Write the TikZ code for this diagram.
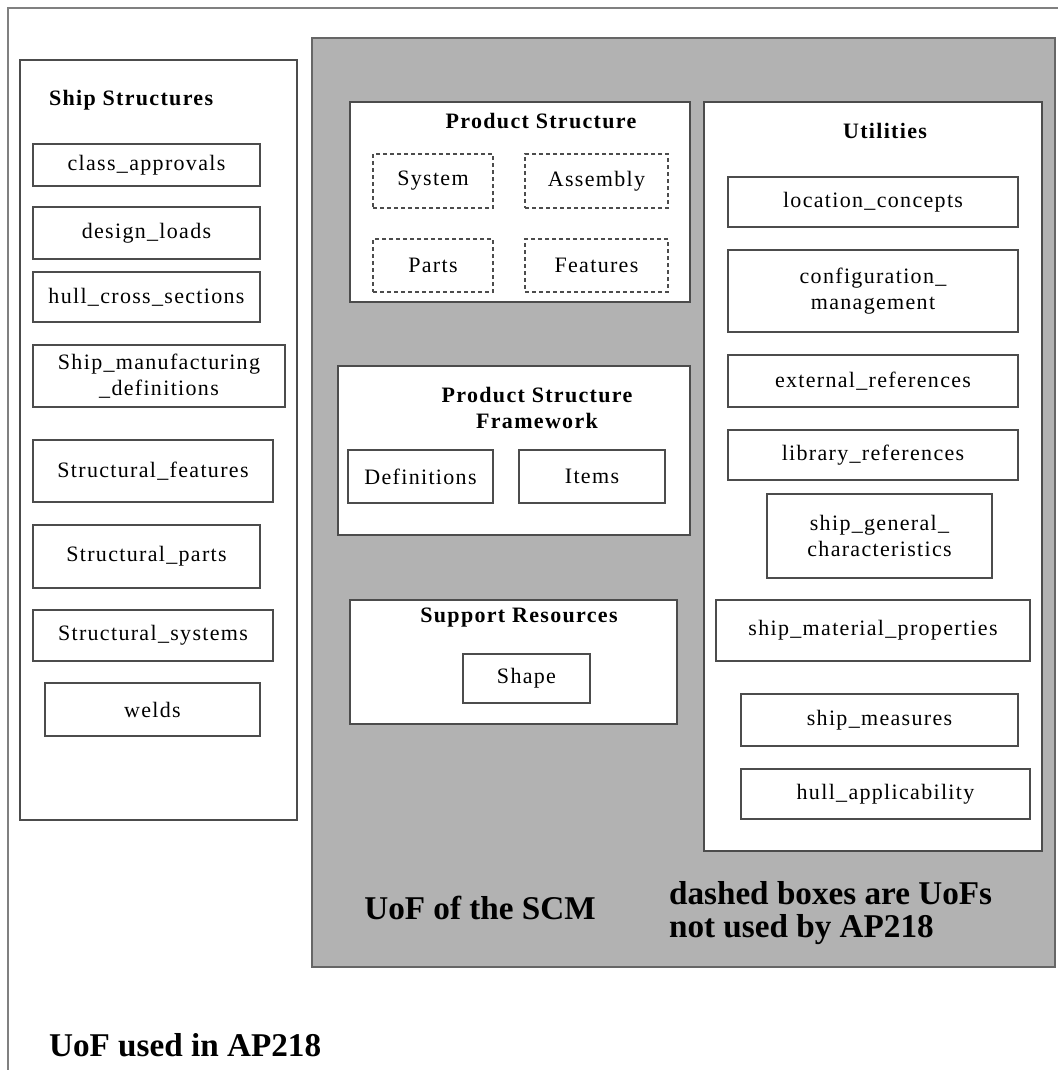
\documentclass[tikz,border=0pt]{standalone}
\usepackage{fontspec}
\setmainfont{Liberation Serif}[LetterSpace=6]
\newfontfamily\notefont{Liberation Serif}
\begin{document}
\begin{tikzpicture}[x=0.5pt,y=-0.5pt]
	\tikzset{every node/.style={font=\fontsize{11}{13}\selectfont}}
	
	\tikzset{group/.style = {shape=rectangle,draw=black!70,line width=0.7pt,fill=white,inner sep=0pt}}
	
	\tikzset{uof/.style = {group,align=center}}
	
	\tikzset{unused/.style = {uof,dash pattern=on 2pt off 1.5pt}}
	
	\tikzset{title/.style = {font=\bfseries\fontsize{11}{13}\selectfont,align=center}}
	
	\tikzset{note/.style = {font=\notefont\bfseries\fontsize{16.6}{16.5}\selectfont,align=left}}
	
	\useasboundingbox (0,0) rectangle (1058,1070);
	
	% frame
	\draw[black!50,line width=0.8pt] (8,1070) -- (8,8) -- (1058,8);
	
	% SCM area
	\node[group,fill=black!30,draw=black!60,minimum width=371.5pt,minimum height=464.5pt] (scm) at (683.5,502.5) {};
	
	% groups
	\node[group,minimum width=138.5pt,minimum height=380pt] (ship) at (158.5,440) {};
	
	\node[group,minimum width=170pt,minimum height=100pt] (prod) at (520,202) {};
	
	\node[group,minimum width=176pt,minimum height=84.5pt] (frame) at (514,450.5) {};
	
	\node[group,minimum width=163.5pt,minimum height=62pt] (support) at (513.5,662) {};
	
	\node[group,minimum width=169pt,minimum height=374.5pt] (util) at (873,476.5) {};
	
	% titles
	\node[title,anchor=west] (ship-t) at (42,100) {Ship Structures};
	
	\node[title] (prod-t) at (541,121) {Product Structure};
	
	\node[title] (frame-t) at (537,408) {Product Structure\\Framework};
	
	\node[title] (support-t) at (519,618) {Support Resources};
	
	\node[title] (util-t) at (885,131) {Utilities};
	
	% ship structures
	\node[uof,minimum width=113.5pt,minimum height=21pt] (approvals) at (146.5,165) {class\_approvals};
	
	\node[uof,minimum width=113.5pt,minimum height=26pt] (loads) at (146.5,233) {design\_loads};
	
	\node[uof,minimum width=113.5pt,minimum height=25pt] (sections) at (146.5,297) {hull\_cross\_sections};
	
	\node[uof,minimum width=126pt,minimum height=31pt] (manuf) at (159,376) {Ship\_manufacturing\\\_definitions};
	
	\node[uof,minimum width=120pt,minimum height=31pt] (features) at (153,471) {Structural\_features};
	
	\node[uof,minimum width=113.5pt,minimum height=31.5pt] (sparts) at (146.5,556.5) {Structural\_parts};
	
	\node[uof,minimum width=120pt,minimum height=25.5pt] (systems) at (153,635.5) {Structural\_systems};
	
	\node[uof,minimum width=107.5pt,minimum height=26.5pt] (welds) at (152.5,709.5) {welds};
	
	% product structure
	\node[unused,minimum width=60pt,minimum height=27pt] (system) at (433,181) {System};
	
	\node[unused,minimum width=71.5pt,minimum height=27pt] (assembly) at (596.5,181) {Assembly};
	
	\node[unused,minimum width=60pt,minimum height=26.5pt] (parts) at (433,265.5) {Parts};
	
	\node[unused,minimum width=71.5pt,minimum height=26.5pt] (pfeatures) at (596.5,265.5) {Features};
	
	% framework
	\node[uof,minimum width=72.5pt,minimum height=26.5pt] (defs) at (420.5,476.5) {Definitions};
	
	\node[uof,minimum width=73pt,minimum height=26.5pt] (items) at (592,476.5) {Items};
	
	% support resources
	\node[uof,minimum width=63.5pt,minimum height=24.5pt] (shape) at (526.5,678.5) {Shape};
	
	% utilities
	\node[uof,minimum width=145pt,minimum height=25pt] (location) at (873,202) {location\_concepts};
	
	\node[uof,minimum width=145pt,minimum height=41pt] (config) at (873,291) {configuration\_\\management};
	
	\node[uof,minimum width=145pt,minimum height=26pt] (external) at (873,381) {external\_references};
	
	\node[uof,minimum width=145pt,minimum height=25pt] (library) at (873,455) {library\_references};
	
	\node[uof,minimum width=112.5pt,minimum height=42pt] (general) at (879.5,536) {ship\_general\_\\characteristics};
	
	\node[uof,minimum width=157pt,minimum height=30.5pt] (material) at (873,630.5) {ship\_material\_properties};
	
	\node[uof,minimum width=138.5pt,minimum height=26pt] (measures) at (879.5,720) {ship\_measures};
	
	\node[uof,minimum width=144.5pt,minimum height=25pt] (hull) at (885.5,794) {hull\_applicability};
	
	% notes
	\node[note] (scm-t) at (480,908) {UoF of the SCM};
	
	\node[note,anchor=west] (dashed-t) at (662,913) {dashed boxes are UoFs\\not used by AP218};
	
	\node[note,anchor=west] (ap-t) at (42,1045) {UoF used in AP218};
\end{tikzpicture}
\end{document}
